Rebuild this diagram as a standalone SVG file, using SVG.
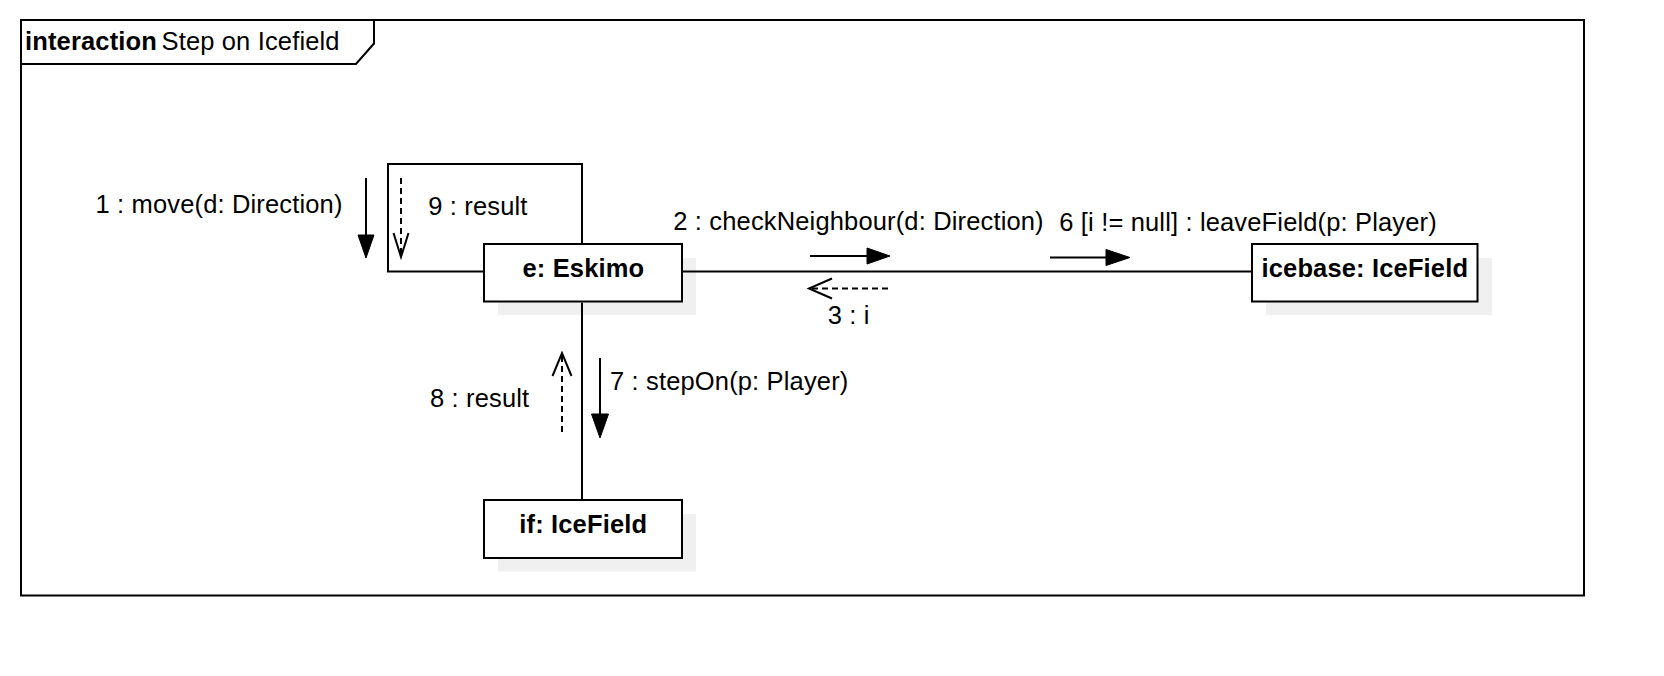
<svg xmlns="http://www.w3.org/2000/svg" width="1664" height="676" viewBox="0 0 1664 676">
<style>
text{font-family:"Liberation Sans",Arial,sans-serif;font-size:25.5px;letter-spacing:0.15px;fill:#000}
.b{font-weight:bold}
.box{fill:#fff;stroke:#000;stroke-width:2}
.sh{fill:#f0f0f0;stroke:none}
.ln{fill:none;stroke:#000;stroke-width:2}
.ds{fill:none;stroke:#000;stroke-width:2;stroke-dasharray:6 4}
.hd{fill:#000;stroke:#000;stroke-width:1}
.op{fill:none;stroke:#000;stroke-width:2}
</style>
<rect width="1664" height="676" fill="#fff"/>
<g id="frame">
<rect x="21" y="20" width="1563" height="575.5" fill="none" stroke="#000" stroke-width="2"/>
<path d="M21,64 H356 L374,43.5 V20" fill="none" stroke="#000" stroke-width="2"/>
<text x="25" y="50" class="b">interaction</text>
<text x="161.5" y="50">Step on Icefield</text>
</g>
<g id="node-eskimo">
<rect class="sh" x="498" y="258" width="198" height="57"/>
<rect class="box" x="484" y="244" width="198" height="57.5"/>
<text x="522.5" y="276.7" class="b">e: Eskimo</text>
</g>
<g id="node-icebase">
<rect class="sh" x="1266" y="258" width="226" height="57"/>
<rect class="box" x="1252" y="244" width="225.5" height="57.5"/>
<text x="1261.5" y="277.3" class="b">icebase: IceField</text>
</g>
<g id="node-if">
<rect class="sh" x="498" y="514" width="198" height="57.5"/>
<rect class="box" x="484" y="500" width="198" height="58"/>
<text x="519.3" y="532.7" class="b">if: IceField</text>
</g>
<g id="connectors">
<path class="ln" d="M483,271.5 H388 V164 H582 V243"/>
<path class="ln" d="M683,271.5 H1251"/>
<path class="ln" d="M582,302.5 V499"/>
</g>
<g id="messages">
<line class="ln" x1="366" y1="178" x2="366" y2="236"/>
<polygon class="hd" points="358,235 374,235 366,258"/>
<text x="95.5" y="213">1 : move(d: Direction)</text>
<line class="ds" x1="401" y1="178" x2="401" y2="256"/>
<polyline class="op" points="393.5,233 401,257 408.5,233"/>
<text x="428.3" y="214.5">9 : result</text>
<line class="ln" x1="810" y1="256" x2="868" y2="256"/>
<polygon class="hd" points="867,248 867,264 890,256"/>
<text x="673.3" y="229.5">2 : checkNeighbour(d: Direction)</text>
<line class="ln" x1="1050" y1="257.5" x2="1107" y2="257.5"/>
<polygon class="hd" points="1106,249.5 1106,265.5 1130,257.5"/>
<text x="1059.3" y="230.5">6 [i != null] : leaveField(p: Player)</text>
<line class="ds" x1="888" y1="288.5" x2="810" y2="288.5"/>
<polyline class="op" points="832,278.5 809,288.5 832,298.5"/>
<text x="827.7" y="324.3">3 : i</text>
<line class="ln" x1="600" y1="358" x2="600" y2="415"/>
<polygon class="hd" points="591.5,414 608.5,414 600,438"/>
<text x="610" y="390">7 : stepOn(p: Player)</text>
<line class="ds" x1="562" y1="432" x2="562" y2="354"/>
<polyline class="op" points="552.5,376 562,353 571.5,376"/>
<text x="430" y="406.7">8 : result</text>
</g>
</svg>
